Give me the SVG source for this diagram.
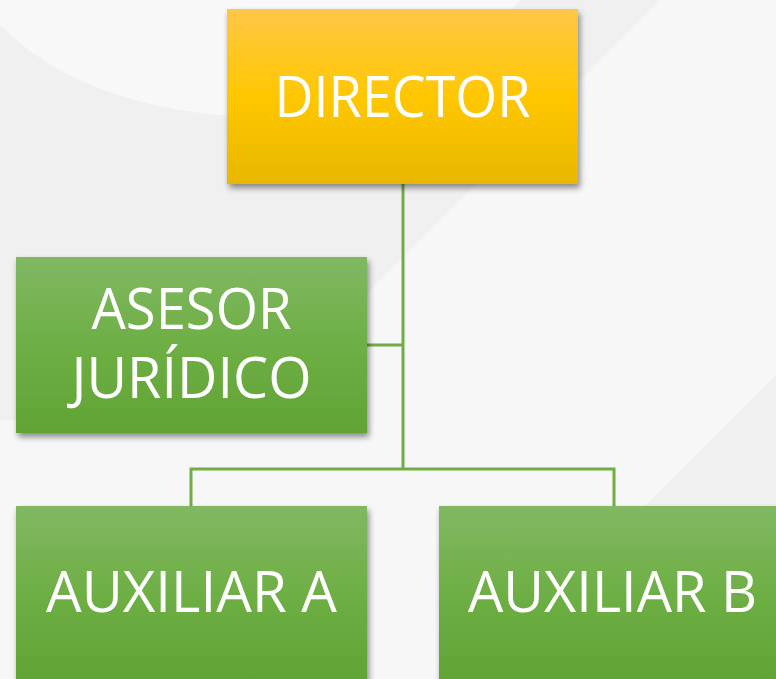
<svg xmlns="http://www.w3.org/2000/svg" width="776" height="679" viewBox="0 0 776 679">
  <defs>
    <linearGradient id="gYellow" x1="0" y1="0" x2="0" y2="1">
      <stop offset="0" stop-color="#FFC747"/>
      <stop offset="0.5" stop-color="#FFC700"/>
      <stop offset="1" stop-color="#E8B700"/>
    </linearGradient>
    <linearGradient id="gGreen" x1="0" y1="0" x2="0" y2="1">
      <stop offset="0" stop-color="#81B863"/>
      <stop offset="0.5" stop-color="#6EAF45"/>
      <stop offset="1" stop-color="#61A334"/>
    </linearGradient>
    <filter id="shadow" x="-10%" y="-10%" width="125%" height="130%">
      <feGaussianBlur in="SourceAlpha" stdDeviation="3"/>
      <feOffset dx="2" dy="4" result="b"/>
      <feComponentTransfer><feFuncA type="linear" slope="0.45"/></feComponentTransfer>
      <feMerge><feMergeNode/><feMergeNode in="SourceGraphic"/></feMerge>
    </filter>
  </defs>
  <style>
    .lbl { font-family: "Open Sans", "Liberation Sans", sans-serif; font-size: 56px; fill: #FFFFFF; text-anchor: middle; }
    .conn { stroke: #70AD47; stroke-width: 3; fill: none; }
  </style>

  <!-- background -->
  <rect x="0" y="0" width="776" height="679" fill="#F7F7F7"/>
  <path d="M0,0 L660,0 L240,420 L0,420 Z" fill="#F0F0F0"/>
  <path d="M0,0 L0,25 C60,85 150,117 280,118 L420,118 L520,0 Z" fill="#F8F8F8"/>
  <path d="M776,375 L776,679 L472,679 Z" fill="#F0F0F0"/>

  <!-- connectors -->
  <g id="connectors">
    <path class="conn" d="M403,184 L403,469"/>
    <path class="conn" d="M367,345 L403,345"/>
    <path class="conn" d="M191,506 L191,469 L614,469 L614,506"/>
  </g>

  <g id="director">
    <rect x="227" y="9" width="351" height="175" fill="url(#gYellow)" filter="url(#shadow)"/>
    <text class="lbl" x="402.5" y="117" textLength="256" lengthAdjust="spacingAndGlyphs">DIRECTOR</text>
  </g>

  <g id="asesor">
    <rect x="16" y="257" width="351" height="176" fill="url(#gGreen)" filter="url(#shadow)"/>
    <text class="lbl" x="191.5" y="329" textLength="200" lengthAdjust="spacingAndGlyphs">ASESOR</text>
    <text class="lbl" x="191.5" y="398" textLength="240" lengthAdjust="spacingAndGlyphs">JURÍDICO</text>
  </g>

  <g id="auxiliarA">
    <rect x="16" y="506" width="351" height="175" fill="url(#gGreen)" filter="url(#shadow)"/>
    <text class="lbl" x="191.5" y="612" textLength="291" lengthAdjust="spacingAndGlyphs">AUXILIAR A</text>
  </g>

  <g id="auxiliarB">
    <rect x="439" y="506" width="351" height="175" fill="url(#gGreen)" filter="url(#shadow)"/>
    <text class="lbl" x="612.5" y="612" textLength="289" lengthAdjust="spacingAndGlyphs">AUXILIAR B</text>
  </g>
</svg>
